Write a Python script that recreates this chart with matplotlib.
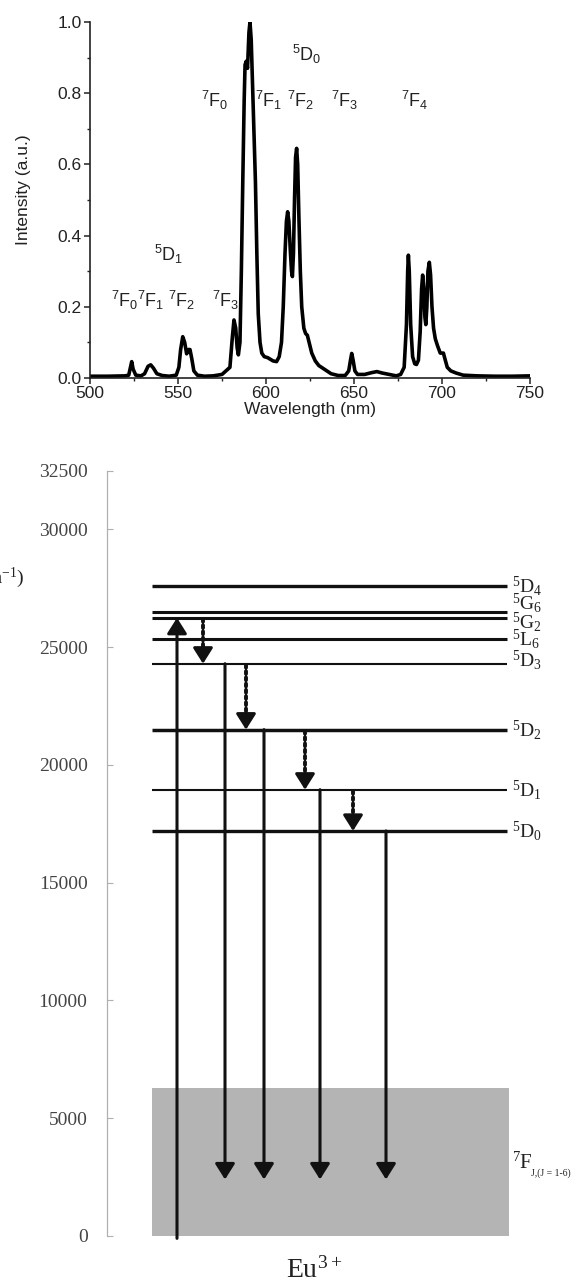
import matplotlib
matplotlib.use('Agg')
import matplotlib.pyplot as plt
from matplotlib.ticker import MultipleLocator
from matplotlib.patches import Rectangle

# emission spectrum
wavelength = [500, 510, 520, 522, 523, 523.7, 524.5, 526, 529, 531, 533, 534.5, 536, 538,
              541, 545, 549, 550.5, 551.5, 552.7, 553.8, 554.9, 556, 556.8, 557.8, 559,
              561, 565, 570, 575, 577.7, 579.5, 580.8, 581.8, 582.8, 583.6, 584.3, 585.2,
              586.0, 586.8, 587.6, 588.1, 588.8, 589.5, 590.3, 590.9, 591.6, 592.4, 593.2,
              594.0, 594.8, 595.6, 596.6, 597.6, 599, 601, 604, 606, 607.5, 608.8, 609.8,
              610.8, 611.6, 612.3, 613, 613.8, 614.5, 615, 615.6, 616.2, 616.8, 617.4, 618,
              618.7, 619.5, 620.3, 621.5, 622.5, 623.5, 624.5, 626, 628, 630, 633, 637, 641,
              645, 647, 648, 648.7, 649.5, 650.5, 652, 656, 660, 663, 666, 670, 674, 676.5,
              678.5, 679.8, 680.5, 680.9, 681.4, 682.2, 683.3, 684.5, 685.5, 686.6, 687.6,
              688.4, 689, 689.7, 690.3, 690.8, 691.4, 692, 692.8, 693.5, 694.3, 695.2, 696.2,
              697.5, 699, 700.1, 700.8, 701.6, 703, 705, 708, 712, 720, 730, 740, 750]
intensity = [0.005, 0.005, 0.006, 0.008, 0.03, 0.046, 0.025, 0.008, 0.006, 0.012, 0.033, 0.037,
             0.028, 0.012, 0.007, 0.005, 0.008, 0.03, 0.08, 0.116, 0.1, 0.068, 0.08, 0.08,
             0.055, 0.02, 0.008, 0.005, 0.006, 0.01, 0.022, 0.03, 0.11, 0.163, 0.14, 0.085,
             0.065, 0.1, 0.3, 0.55, 0.78, 0.88, 0.89, 0.87, 0.97, 1.0, 0.95, 0.82, 0.7, 0.55,
             0.35, 0.18, 0.1, 0.07, 0.06, 0.057, 0.048, 0.046, 0.06, 0.1, 0.2, 0.35, 0.44,
             0.467, 0.44, 0.36, 0.3, 0.285, 0.35, 0.5, 0.62, 0.645, 0.6, 0.45, 0.3, 0.2, 0.14,
             0.125, 0.12, 0.1, 0.07, 0.048, 0.035, 0.025, 0.012, 0.007, 0.007, 0.02, 0.05,
             0.069, 0.05, 0.02, 0.01, 0.01, 0.015, 0.018, 0.014, 0.01, 0.006, 0.01, 0.03,
             0.15, 0.3, 0.345, 0.3, 0.15, 0.06, 0.04, 0.038, 0.05, 0.13, 0.25, 0.289, 0.25,
             0.17, 0.15, 0.2, 0.3, 0.325, 0.29, 0.2, 0.14, 0.11, 0.09, 0.07, 0.07, 0.07, 0.055,
             0.03, 0.02, 0.014, 0.008, 0.006, 0.005, 0.005, 0.006]

# transition labels on the spectrum: (text, wavelength, height)
spec_labels = ['5D0', '7F0', '7F1', '7F2', '7F3', '7F4', '5D1', '7F0', '7F1', '7F2', '7F3']
spec_label_wl = [623.4, 570.7, 601.5, 619.5, 644.9, 684.7, 544.4, 519.9, 534.5, 552.1, 577.1]
spec_label_y = [0.89, 0.76, 0.76, 0.76, 0.76, 0.76, 0.33, 0.20, 0.20, 0.20, 0.20]

# Eu3+ energy levels (cm-1)
level_names = ['5D4', '5G6', '5G2', '5L6', '5D3', '5D2', '5D1', '5D0']
level_energy = [27600, 26500, 26250, 25350, 24300, 21500, 18950, 17200]
ground_top = 6300
emission_end = 2400
energy_ticks = [0, 5000, 10000, 15000, 20000, 25000, 30000, 32500]

# styles / layout (diagram x units)
level_lw = [2.4, 2.2, 2.2, 2.2, 1.5, 2.5, 1.5, 2.4]
label_shift = [0, 370, -170, 0, 170, 0, 0, 0]
x_left, x_right = 45, 400
x_up = 70
x_down = [118, 157, 213, 279]       # from 5D3, 5D2, 5D1, 5D0
x_relax = [96, 139, 198, 246]       # 5G2->5D3, 5D3->5D2, 5D2->5D1, 5D1->5D0


def term(s):
    return r'$\mathdefault{^{%s}%s_{%s}}$' % (s[0], s[1], s[2])


fig = plt.figure(figsize=(5.81, 12.83), dpi=100)

# ---- spectrum ----
sans = 'Liberation Sans'
ax1 = fig.add_axes([90/581, (1283-378)/1283, 440/581, 356/1283])
ax1.plot(wavelength, intensity, color='black', lw=2.6, solid_joinstyle='round')
ax1.set_xlim(500, 750)
ax1.set_ylim(0, 1.0)
for s in ['top', 'right']:
    ax1.spines[s].set_visible(False)
for s in ['left', 'bottom']:
    ax1.spines[s].set_linewidth(1.2)
    ax1.spines[s].set_color('#222222')
ax1.xaxis.set_major_locator(MultipleLocator(50))
ax1.xaxis.set_minor_locator(MultipleLocator(25))
ax1.yaxis.set_major_locator(MultipleLocator(0.2))
ax1.yaxis.set_minor_locator(MultipleLocator(0.1))
ax1.tick_params(which='major', length=4, width=1.1, pad=2, labelsize=12.5,
                colors='#222222')
ax1.tick_params(which='minor', length=2.5, width=1.0, colors='#222222')
for lab in ax1.get_xticklabels() + ax1.get_yticklabels():
    lab.set_family(sans)
ax1.set_xlabel('Wavelength (nm)', fontsize=12.5, family=sans, color='#222222')
ax1.set_ylabel('Intensity (a.u.)', fontsize=12.5, family=sans, color='#222222')
ax1.xaxis.set_label_coords(0.5, -0.068)
ax1.yaxis.set_label_coords(-0.135, 0.53)
for t, x, y in zip(spec_labels, spec_label_wl, spec_label_y):
    ax1.text(x, y, term(t), ha='center', va='baseline', fontsize=13, family=sans,
             color='#222222')

# ---- energy level diagram ----
serif = 'Liberation Serif'
ax2 = fig.add_axes([107/581, (1283-1236)/1283, 474/581, (1236-470.6)/1283])
ax2.set_xlim(0, 474)
ax2.set_ylim(0, 32500)
for s in ['top', 'right', 'bottom']:
    ax2.spines[s].set_visible(False)
ax2.spines['left'].set_color('#b0b0b0')
ax2.spines['left'].set_linewidth(0.9)
ax2.set_xticks([])
ax2.set_yticks(energy_ticks)
ax2.set_yticklabels([str(v) for v in energy_ticks])
ax2.tick_params(axis='y', direction='in', length=4, width=0.8, color='#b0b0b0',
                pad=14, labelsize=14, labelcolor='#444444')
for lab in ax2.get_yticklabels():
    lab.set_family(serif)

ax2.add_patch(Rectangle((x_left, 0), x_right + 2 - x_left, ground_top,
                        facecolor='#b4b4b4', edgecolor='none', zorder=1))

for name, e, lw, dy in zip(level_names, level_energy, level_lw, label_shift):
    ax2.plot([x_left, x_right], [e, e], color='#111111', lw=lw, zorder=3,
             solid_capstyle='butt')
    ax2.text(x_right + 5, e + dy, term(name), ha='left', va='center', fontsize=14,
             family=serif, color='#222222')

# ground multiplet label, small subscript as in the original
ax2.text(x_right + 5, 3100, r'$\mathdefault{^{7}F}$', ha='left', va='center',
         fontsize=15, family=serif, color='#222222')
ax2.text(x_right + 24, 2650, 'J,(J = 1-6)', ha='left', va='center',
         fontsize=7, family=serif, color='#222222')

head = '-|>,head_length=0.95,head_width=0.6'


def arrow(x, y0, y1):
    ax2.annotate('', xy=(x, y1), xytext=(x, y0), annotation_clip=False,
                 arrowprops=dict(arrowstyle=head, mutation_scale=10, lw=2.2,
                                 color='#111111', shrinkA=0, shrinkB=0), zorder=4)


# excitation
arrow(x_up, -100, level_energy[2])
# emission
for x, e in zip(x_down, [level_energy[4], level_energy[5], level_energy[6], level_energy[7]]):
    arrow(x, e, emission_end)
# non-radiative relaxation
relax_pairs = [(level_energy[2], level_energy[4]), (level_energy[4], level_energy[5]),
               (level_energy[5], level_energy[6]), (level_energy[6], level_energy[7])]
for x, (hi, lo) in zip(x_relax, relax_pairs):
    ax2.plot([x, x], [hi - 50, lo + 560], color='#111111', lw=2.8,
             ls=(0, (0.7, 0.9)), dash_capstyle='round', zorder=4)
    arrow(x, lo + 560, lo)

fig.text(24/581, (1283-578)/1283, r'$\mathdefault{(cm^{-1})}$', ha='right',
         va='center', fontsize=14, family=serif, color='#222222')
fig.text(314/581, (1283-1278)/1283, r'$\mathdefault{Eu^{3+}}$', ha='center',
         va='baseline', fontsize=20, family=serif, color='#222222')

fig.savefig('out.png', dpi=100, facecolor='white')
